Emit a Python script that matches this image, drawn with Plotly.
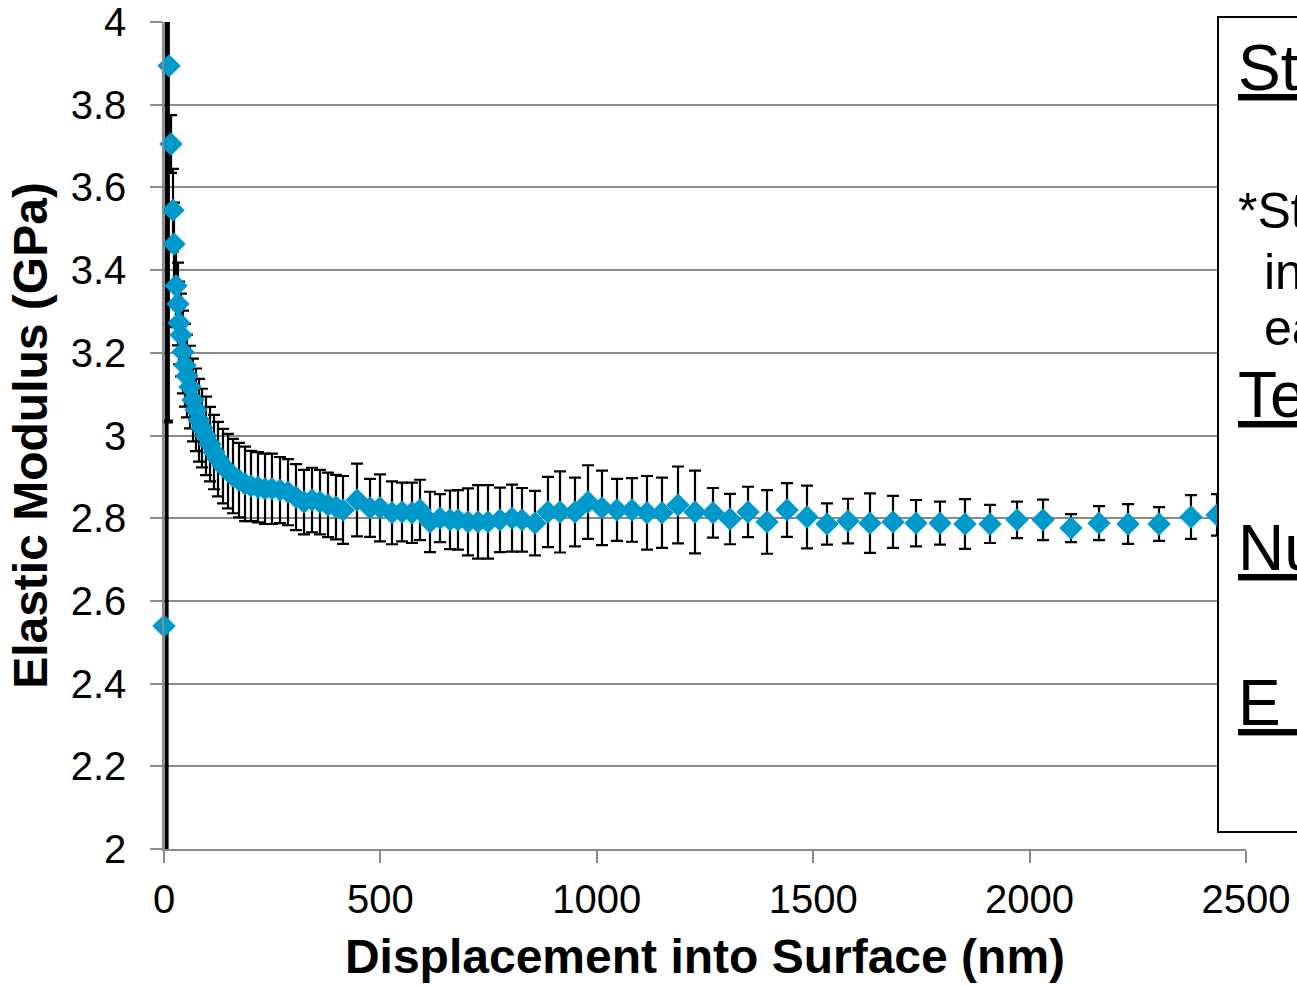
import plotly.graph_objects as go

# Displacement into surface (nm)
displacement = [
    6, 9, 16.2, 20.8, 23.1, 27.7, 32.3, 34.7, 39.3, 43.9,
    48.5, 53.1, 60.1, 67.0, 73.9, 80.9, 87.8, 97.0, 106.3, 115.5,
    124.8, 136.3, 147.9, 159.4, 173.3, 187.2, 201.0, 217.2, 233.4, 249.5,
    268.0, 286.5, 305.0, 323.5, 342.0, 360.4, 378.9, 397.4, 413.6, 445.9,
    476.0, 499.1, 526.8, 549.9, 573.0, 591.5, 614.6, 637.7, 660.8, 679.3,
    702.4, 725.5, 748.6, 776.3, 804.1, 827.2, 857.2, 887.2, 915.0, 949.6,
    979.7, 1012.0, 1046.7, 1081.3, 1116.0, 1150.6, 1187.6, 1226.9, 1268.5, 1307.8,
    1349.4, 1393.3, 1439.5, 1485.7, 1531.9, 1580.4, 1631.2, 1684.4, 1737.5, 1793.0,
    1850.7, 1908.5, 1970.9, 2031.0, 2095.7, 2160.4, 2227.4, 2299.0, 2372.9, 2433.0,
]
# marker positions of the first two readings (nm) as drawn in the chart
first_marker_x = [0, 11.6]

# Elastic modulus (GPa)
modulus = [
    2.539, 3.894, 3.705, 3.545, 3.463, 3.362, 3.318, 3.272, 3.243, 3.202,
    3.170, 3.144, 3.117, 3.086, 3.062, 3.037, 3.018, 2.999, 2.979, 2.960,
    2.943, 2.926, 2.914, 2.902, 2.892, 2.883, 2.878, 2.875, 2.871, 2.871,
    2.868, 2.863, 2.851, 2.839, 2.844, 2.839, 2.832, 2.827, 2.820, 2.844,
    2.825, 2.825, 2.813, 2.815, 2.813, 2.820, 2.791, 2.800, 2.796, 2.796,
    2.791, 2.791, 2.791, 2.796, 2.800, 2.796, 2.788, 2.815, 2.815, 2.815,
    2.839, 2.825, 2.820, 2.820, 2.813, 2.813, 2.832, 2.815, 2.813, 2.798,
    2.815, 2.791, 2.820, 2.803, 2.786, 2.793, 2.788, 2.791, 2.788, 2.788,
    2.786, 2.786, 2.796, 2.796, 2.776, 2.788, 2.786, 2.786, 2.803, 2.808,
]

# Standard deviation (GPa), upper and lower
std_plus = [
    1.60, 0.86, 0.07, 0.10, 0.10, 0.10, 0.10, 0.10, 0.10, 0.10,
    0.10, 0.10, 0.10, 0.10, 0.10, 0.10, 0.095, 0.095, 0.09, 0.09,
    0.09, 0.09, 0.09, 0.09, 0.09, 0.09, 0.085, 0.085, 0.085, 0.085,
    0.08, 0.08, 0.08, 0.078, 0.078, 0.078, 0.078, 0.078, 0.082, 0.088,
    0.070, 0.081, 0.076, 0.071, 0.073, 0.073, 0.073, 0.058, 0.071, 0.072,
    0.081, 0.089, 0.089, 0.078, 0.081, 0.077, 0.078, 0.085, 0.098, 0.083,
    0.089, 0.090, 0.075, 0.077, 0.089, 0.085, 0.093, 0.100, 0.060, 0.061,
    0.061, 0.077, 0.065, 0.076, 0.050, 0.054, 0.072, 0.063, 0.056, 0.052,
    0.060, 0.046, 0.044, 0.049, 0.034, 0.041, 0.048, 0.041, 0.053, 0.050,
]
std_minus = [0.60] + std_plus[1:]

x_ticks = [0, 500, 1000, 1500, 2000, 2500]
y_ticks = [2, 2.2, 2.4, 2.6, 2.8, 3, 3.2, 3.4, 3.6, 3.8, 4]

box_headers = ["St", "Te", "Nu", "E\u00a0\u00a0"]
box_body = ["*St", "in", "ea"]

FONT = "Liberation Sans, Arial, sans-serif"
GRID = "#8a8a8a"
BLUE = "#0099CC"

fig = go.Figure()
# error bars of the first two readings (very large spread)
fig.add_trace(go.Scatter(
    x=displacement[:2], y=modulus[:2], mode="markers",
    marker=dict(size=1, opacity=0),
    error_y=dict(type="data", array=std_plus[:2], arrayminus=std_minus[:2], symmetric=False,
                 color="black", thickness=4, width=5),
    showlegend=False, hoverinfo="skip",
))
# error bars of the remaining readings
fig.add_trace(go.Scatter(
    x=displacement[2:], y=modulus[2:], mode="markers",
    marker=dict(size=1, opacity=0),
    error_y=dict(type="data", array=std_plus[2:], arrayminus=std_minus[2:], symmetric=False,
                 color="black", thickness=2.2, width=6),
    showlegend=False, hoverinfo="skip",
))
# all markers
fig.add_trace(go.Scatter(
    x=first_marker_x + displacement[2:], y=modulus, mode="markers",
    marker=dict(symbol="diamond", size=18, color=BLUE, line=dict(width=0)),
    showlegend=False, cliponaxis=False,
))

fig.update_layout(
    template="none",
    width=1297, height=985,
    margin=dict(l=164, r=51, t=22, b=136, autoexpand=False),
    paper_bgcolor="white", plot_bgcolor="white",
    font=dict(family=FONT, color="black"),
    xaxis=dict(
        range=[0, 2500], tickvals=x_ticks, ticktext=[str(v) for v in x_ticks],
        showgrid=False, zeroline=False, automargin=False,
        showline=True, linecolor=GRID, linewidth=1.5,
        ticks="outside", ticklen=12, tickcolor=GRID, tickwidth=1.5,
        tickfont=dict(size=40, family=FONT), ticklabelstandoff=2,
        title=dict(text="<b>Displacement into Surface (nm)</b>",
                   font=dict(size=48, family=FONT), standoff=20),
    ),
    yaxis=dict(
        range=[2, 4], tickvals=y_ticks, ticktext=[f"{v:g}" for v in y_ticks],
        showgrid=True, gridcolor=GRID, gridwidth=1.5, zeroline=False, automargin=False,
        showline=True, linecolor=GRID, linewidth=1.5,
        ticks="outside", ticklen=12, tickcolor=GRID, tickwidth=1.5,
        tickfont=dict(size=40, family=FONT), ticklabelstandoff=16,
        title=dict(text="<b>Elastic Modulus (GPa)</b>",
                   font=dict(size=48, family=FONT), standoff=8),
    ),
)

# Text box on the right (partially outside the figure)
W = 1082.0
H = 827.0
def px_x(p):
    return (p - 164) / W
def px_y(p):
    return (849 - p) / H

fig.add_shape(type="rect", xref="paper", yref="paper",
              x0=px_x(1218), x1=px_x(1330), y0=px_y(832), y1=px_y(17),
              line=dict(color="black", width=2), fillcolor="white", layer="above")

header_y = [68, 395, 548, 703]
for txt, yy in zip(box_headers, header_y):
    fig.add_annotation(xref="paper", yref="paper", x=px_x(1236), y=px_y(yy),
                       xanchor="left", yanchor="middle", showarrow=False,
                       text=f"<u>{txt}\u00a0\u00a0</u>", font=dict(size=64, family=FONT, color="black"))

body_pos = [(1236, 211), (1262, 272), (1262, 328)]
for txt, (xx, yy) in zip(box_body, body_pos):
    fig.add_annotation(xref="paper", yref="paper", x=px_x(xx), y=px_y(yy),
                       xanchor="left", yanchor="middle", showarrow=False,
                       text=txt, font=dict(size=50, family=FONT, color="black"))

fig.write_html("out.html", config={"displayModeBar": False},
               post_script="document.body.style.margin='0';document.body.style.overflow='hidden';")
